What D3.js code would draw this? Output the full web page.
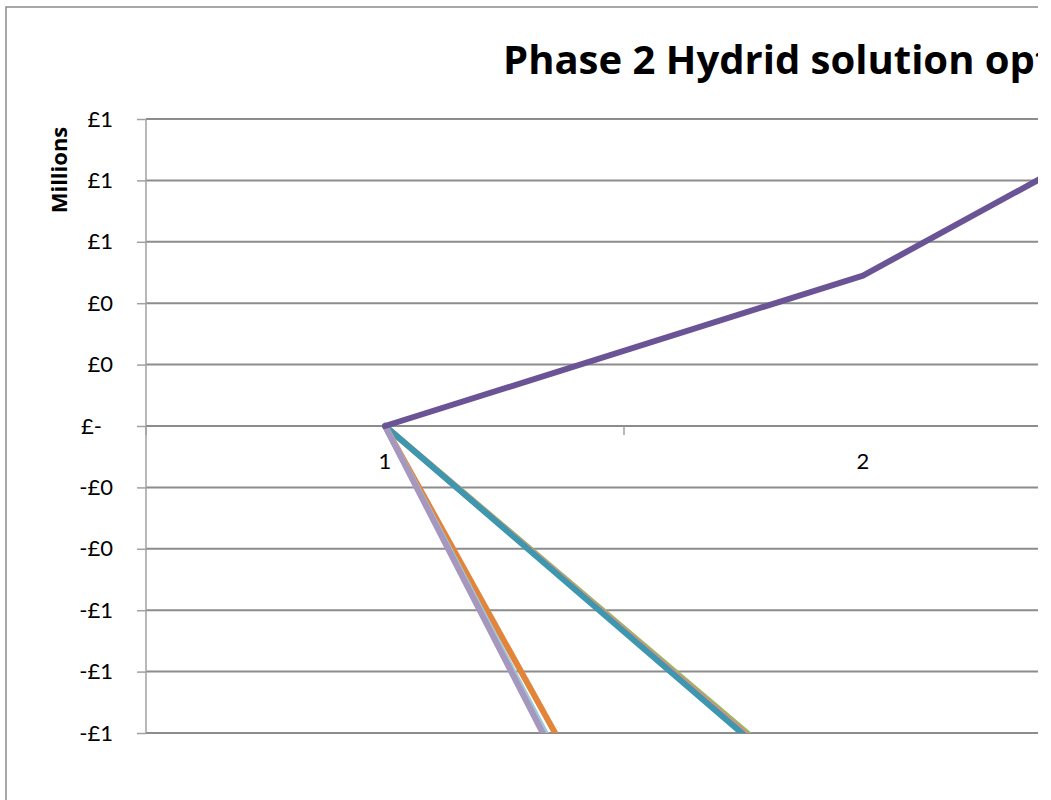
<!DOCTYPE html>
<html>
<head>
<meta charset="utf-8">
<script src="https://cdn.jsdelivr.net/npm/d3@7"></script>
<style>
  html, body { margin: 0; padding: 0; background: #ffffff; overflow: hidden; }
  svg { display: block; }
</style>
</head>
<body>
<script>
// ---- data ----
const categories = ["1", "2", "3"];
const yTicks = [1.0, 0.8, 0.6, 0.4, 0.2, 0, -0.2, -0.4, -0.6, -0.8, -1.0];
const seriesNames = ["S1", "S2", "S3", "S4", "S5", "S6", "S7"];
const seriesColors = ["#93BE5A", "#D98C8A", "#3E97AF", "#E2843A", "#9DC9DA", "#A597BD", "#6B5495"];
const s1Values = [0, -1.32, -2.64];
const s2Values = [0, -1.33, -2.66];
const s3Values = [0, -1.34, -2.68];
const s4Values = [0, -2.81, -5.6];
const s5Values = [0, -2.98, -5.9];
const s6Values = [0, -3.03, -6.0];
const s7Values = [0, 0.49, 1.34];
const titleText = "Phase 2 Hydrid solution options";
const yAxisTitle = "Millions";

const seriesValues = [s1Values, s2Values, s3Values, s4Values, s5Values, s6Values, s7Values];

// ---- layout ----
const W = 1038, H = 800;
const plot = { left: 146, top: 119, right: 1580, bottom: 733 };
const FONT = "'Open Sans', Lato, sans-serif";

const svg = d3.select("body").append("svg").attr("width", W).attr("height", H);

// chart border
svg.append("rect")
  .attr("x", 6).attr("y", 7).attr("width", 1700).attr("height", 900)
  .attr("fill", "#ffffff").attr("stroke", "#8a8a8a").attr("stroke-width", 1.5);

const x = d3.scaleBand().domain(categories).range([plot.left, plot.right]).paddingInner(0).paddingOuter(0);
const y = d3.scaleLinear().domain([-1, 1]).range([plot.bottom, plot.top]);

function fmt(v) {
  if (Math.abs(v) < 1e-9) return "£-";
  return (v < 0 ? "-" : "") + "£" + Math.round(Math.abs(v));
}

// gridlines
svg.append("g").selectAll("line").data(yTicks).join("line")
  .attr("x1", plot.left).attr("x2", plot.right)
  .attr("y1", d => y(d)).attr("y2", d => y(d))
  .attr("stroke", "#8c8c8c").attr("stroke-width", 2);

// y axis
const yAxis = d3.axisLeft(y).tickValues(yTicks).tickSize(9).tickPadding(24).tickFormat(fmt);
const gy = svg.append("g").attr("transform", `translate(${plot.left},0)`).call(yAxis);
gy.select(".domain").attr("stroke", "#a0a0a0").attr("stroke-width", 1.5).attr("d", `M0,${plot.top}V${plot.bottom}`);
gy.selectAll(".tick line").attr("stroke", "#a0a0a0").attr("stroke-width", 1.5);
gy.selectAll(".tick text")
  .attr("font-family", "Lato, 'Open Sans', sans-serif").attr("font-size", 22).attr("fill", "#000")
  .attr("dx", d => Math.abs(d) < 1e-9 ? -11 : 0);

// x axis at zero (category axis, ticks between categories)
const boundaries = categories.map(c => x(c)).concat([x(categories[categories.length - 1]) + x.bandwidth()]);
const gx = svg.append("g");
gx.append("line").attr("x1", plot.left).attr("x2", plot.right)
  .attr("y1", y(0)).attr("y2", y(0)).attr("stroke", "#8c8c8c").attr("stroke-width", 2);
gx.selectAll("line.tk").data(boundaries).join("line").attr("class", "tk")
  .attr("x1", d => d).attr("x2", d => d)
  .attr("y1", y(0)).attr("y2", y(0) + 9)
  .attr("stroke", "#a0a0a0").attr("stroke-width", 1.5);
gx.selectAll("text").data(categories.filter(c => x(c) + x.bandwidth() / 2 < W)).join("text")
  .attr("x", d => x(d) + x.bandwidth() / 2)
  .attr("y", y(0) + 43)
  .attr("text-anchor", "middle")
  .attr("font-family", "Lato, 'Open Sans', sans-serif").attr("font-size", 22).attr("fill", "#000")
  .text(d => d);

// clip
svg.append("clipPath").attr("id", "plotclip").append("rect")
  .attr("x", plot.left - 10).attr("y", plot.top).attr("width", plot.right - plot.left + 20).attr("height", plot.bottom - plot.top);

const line = d3.line()
  .x((d, i) => x(categories[i]) + x.bandwidth() / 2)
  .y(d => y(d));

svg.append("g").attr("clip-path", "url(#plotclip)")
  .selectAll("path").data(seriesValues).join("path")
  .attr("d", d => line(d))
  .attr("fill", "none")
  .attr("stroke", (d, i) => seriesColors[i])
  .attr("stroke-width", 6)
  .attr("stroke-linejoin", "round")
  .attr("stroke-linecap", "round");

// title: size it so that "Phase 2 Hydrid solution op" spans ~532px as in the reference
const title = svg.append("text")
  .attr("x", 503).attr("y", 74)
  .attr("font-family", FONT).attr("font-weight", "bold")
  .attr("font-size", 40).attr("fill", "#000")
  .text(titleText);
const probe = svg.append("text").attr("font-family", FONT).attr("font-weight", "bold")
  .attr("font-size", 40).text("Phase 2 Hydrid solution op");
const pw = probe.node().getComputedTextLength();
probe.remove();
title.attr("font-size", 40 * 532 / pw);

// y axis title
svg.append("text")
  .attr("transform", `translate(67,170) rotate(-90)`)
  .attr("text-anchor", "middle")
  .attr("font-family", FONT).attr("font-weight", "bold")
  .attr("font-size", 22).attr("fill", "#000")
  .text(yAxisTitle);
</script>
</body>
</html>
